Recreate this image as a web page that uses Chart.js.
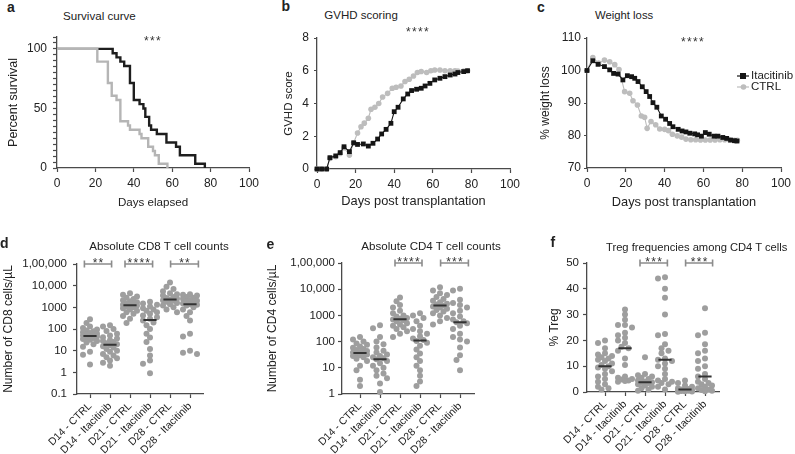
<!DOCTYPE html>
<html><head><meta charset="utf-8">
<script src="https://cdn.jsdelivr.net/npm/chart.js@4.4.1/dist/chart.umd.min.js"></script>
<style>
html,body{margin:0;padding:0;background:#fff;}
#wrap{position:relative;width:795px;height:454px;overflow:hidden;font-family:"Liberation Sans",Arial,sans-serif;color:#222;}
canvas{position:absolute;}
.t{position:absolute;white-space:nowrap;line-height:1;}
</style></head>
<body><div id="wrap"></div>
<script>
// ================= DATA =================
const dayTicks = [0, 20, 40, 60, 80, 100];

// (a) survival
const survivalDaysItacitinib = [0,29,31,33,35,38,40,43,45,46,48,49,52,57,62,64,72,77];
const survivalItacitinib     = [100,96.4,92.9,89.3,85.7,71.4,57.1,53.6,50,42.9,35.7,32.1,28.6,21.4,17.9,10.7,3.6,0];
const survivalDaysCtrl = [0,21,26.5,28.5,31,33,37,38,43,44,47.5,50,51,53,57.5];
const survivalCtrl     = [100,89.3,71.4,60.7,57.1,39.3,35.7,32.1,28.6,25,17.9,14.3,10.7,3.6,0];
const survivalYLabels  = [0, 50, 100];

// (b) GVHD score
const gvhdDaysItacitinib = [0,2.4,5,6.7,9.7,12,14,16.8,19,21,24,26.6,29,31.4,33.5,35.8,38.3,40,42,44.7,47,49,51.6,54,56,58.5,61,63.7,66.3,69,71.5,73,76,78];
const gvhdItacitinib     = [0,0,0,0.69,0.8,1.0,1.36,1.06,1.6,1.5,1.53,1.4,1.57,1.83,2.14,2.42,2.79,3.5,3.77,4.28,4.58,4.79,4.87,4.93,5.07,5.23,5.44,5.54,5.64,5.74,5.8,5.89,5.95,6.0];
const gvhdDaysCtrl = [0,2.4,5,6.7,9.7,12,14,16.8,19,21,22.8,24.5,26.6,28,30,32,34,36.6,39,41,43.5,45.6,47.8,50,52,54,56.8,59,61,63.7,66.3,69,71.5,73,76,78];
const gvhdCtrl     = [0,0,0,0.65,0.75,0.95,1.3,0.85,1.6,2.2,2.58,2.8,3.1,3.65,3.77,4.0,4.4,4.62,4.93,4.99,5.07,5.34,5.48,5.68,5.89,5.95,5.89,6.0,6.05,6.05,6.0,6.0,6.0,5.98,5.98,6.0];
const gvhdYTicks = [0, 2, 4, 6, 8];

// (c) weight
const weightDaysItacitinib = [0,3,5.7,9,11.7,13.7,16,18.5,20.8,23,24.6,26.3,28.5,30.5,32.3,34,36,38.3,40.5,42.6,44.3,47,49,51,53,55.5,57,59,61,63,65.5,67.5,70,72,74,76,77.3];
const weightItacitinib     = [100,103,101.9,101.2,100.2,99.1,98.9,97.1,98.4,98.1,97.6,96.6,95,93.5,92,90.1,88.7,86,85,83.7,82.7,81.9,81.4,81.1,80.7,80.5,80.2,79.8,80.9,80.4,79.8,79.8,79.4,79.1,78.6,78.4,78.3];
const weightDaysCtrl = [0,3,6,9,11.7,14.3,16.5,19.4,22,23.7,26,28,29.7,31,33,35.4,37.5,40,42,44,46.5,48.8,51,53.5,56,58.5,61,63.5,66,68.5,71,73.5,76,77.5];
const weightCtrl     = [100,104,102.3,103.2,102.7,101.8,100.3,93.5,93,90.7,89.4,86,85.6,82.2,84.3,83.3,82,81.9,81.5,80.4,79.9,79.5,78.9,78.7,78.7,78.6,78.6,78.6,78.6,78.7,78.7,78.6,78.5,78.5];
const weightYTicks = [70, 80, 90, 100, 110];
const seriesNames = ['Itacitinib', 'CTRL'];

// (d,e,f) categories
const categories = ['D14 - CTRL','D14 - Itacitinib','D21 - CTRL','D21 - Itacitinib','D28 - CTRL','D28 - Itacitinib'];

// (d) CD8 counts
const cd8Values = [
  [280,190,130,110,95,85,78,70,65,60,55,52,50,48,45,42,38,35,32,28,24,20,15,9,6.5,2.3],
  [150,130,100,80,60,50,42,36,30,28,25,22,20,18,16,14,12,10,9,7,6,5,4.5,3.5,2.8,2],
  [4500,3800,3200,2800,2400,2100,1900,1700,1500,1400,1300,1250,1200,1100,1000,900,800,700,600,500,400,300,190],
  [1800,1500,1300,1100,900,800,700,600,500,420,350,300,250,200,150,100,60,40,25,12,6,3.5,2.5,0.9],
  [14000,9000,7000,5500,4500,4000,3500,3000,2700,2500,2300,2100,2000,1800,1600,1400,1200,1000,800,600],
  [4000,3800,3500,3000,2800,2500,2200,2000,1800,1600,1500,1400,1300,1200,1000,800,600,400,250,60,45,10,8,7]
];
const cd8Medians = [48, 19, 1250, 260, 2300, 1400];
const cd8TickValues = [0.1, 1, 10, 100, 1000, 10000, 100000];
const cd8TickLabels = ['0.1','1','10','100','1000','10,000','1,00,000'];

// (e) CD4 counts
const cd4Values = [
  [150,120,100,85,75,65,58,52,48,44,40,38,36,34,32,30,28,25,22,18,12,8,3.5,2],
  [420,320,150,100,80,60,45,38,32,28,25,23,21,18,15,12,10,8,6,5,4,2.5,1.2],
  [4800,3500,2500,2000,1500,1200,1000,900,800,750,700,650,600,500,450,400,350,300,250,200,150],
  [1200,1000,800,600,400,300,250,200,160,130,115,105,90,70,50,35,25,18,12,8,5,3,2],
  [12000,9000,7000,6000,5000,4200,3600,3200,2800,2600,2400,2200,2000,1800,1600,1400,1200,1000,800,600,450],
  [10500,9000,4000,3000,2500,2000,1500,1200,900,700,600,550,500,400,300,200,150,120,100,60,30,20,8]
];
const cd4Medians = [37, 21, 720, 110, 2400, 550];
const cd4TickValues = [1, 10, 100, 1000, 10000, 100000];
const cd4TickLabels = ['1','10','100','1000','10,000','1,00,000'];

// (f) Treg %
const tregValues = [
  [20,19,17,15,14.5,14,13.5,13,12.5,12,11,10.5,10,9.5,9,8,7,6,5,4,3,2,1.5,1],
  [32,30,28,26,26,25,23,22,21,20,19,17.5,17,16,13,10.5,6,5.5,5,4.8,4.5,4.3,4],
  [13.5,7,6.5,6,5.5,5,4.5,4,3.8,3.6,3.5,3,2.5,2,1.5,1,0.5],
  [44.5,44,40,36.5,30,22.5,22,18.5,17,16,15,13,12.5,12,11,10,9,7,5,4.5,4,3.5,3,2,1],
  [4.5,3.5,2.5,2,1.5,1.2,1,0.9,0.8,0.6,0.5,0.4,0.3,0.2,0.1],
  [32.5,23,22,18.5,16,15,13,12,10,9,7,6,5,4,3.5,3,2.5,2,1.5,1,0.8,0.5,0.3]
];
const tregMedians = [10, 17, 3.8, 12.5, 1, 6];
const tregTicks = [0, 10, 20, 30, 40, 50];

// ================= RENDER =================
const FONT = '"Liberation Sans", Arial, sans-serif';
const AX = '#4a4a4a';
Chart.defaults.font.family = FONT;
Chart.defaults.color = '#222';
const wrap = document.getElementById('wrap');

function txt(s, x, baseline, size, o = {}) {
  const e = document.createElement('div');
  e.className = 't'; e.textContent = s;
  e.style.fontSize = size + 'px';
  if (o.bold) e.style.fontWeight = 'bold';
  if (o.ls) e.style.letterSpacing = o.ls + 'px';
  if (o.color) e.style.color = o.color;
  e.style.top = (baseline - 0.8465 * size) + 'px';
  e.style.left = x + 'px';
  if (o.center) e.style.transform = 'translateX(-50%)';
  wrap.appendChild(e);
}

function axis(o) {
  return {
    type: o.type || 'linear', min: o.min, max: o.max,
    border: {display: true, color: AX, width: 1.3},
    grid: {drawOnChartArea: false, drawTicks: true, tickLength: o.tl ?? 4, tickColor: AX, tickWidth: 1.2},
    ticks: {autoSkip: false, color: '#222', font: {size: o.fs || 12}, padding: o.pad ?? 4,
            minRotation: o.rot || 0, maxRotation: o.rot || 0,
            callback: o.cb || (v => String(v))},
    afterBuildTicks: s => { s.ticks = o.ticks.map(v => ({value: v})); },
    title: {display: !!o.title, text: o.title || '', color: '#222', font: {size: o.tfs || 12, weight: 'normal'}, padding: o.tpad || {top: 0, bottom: 0}}
  };
}

function makeChart(cfg) {
  const c = document.createElement('canvas');
  c.width = cfg.w; c.height = cfg.h;
  Object.assign(c.style, {left: cfg.left + 'px', top: cfg.top + 'px', width: cfg.w + 'px', height: cfg.h + 'px'});
  wrap.appendChild(c);
  const pad = {left: cfg.plot.l - cfg.left - cfg.yW, top: cfg.plot.t - cfg.top,
               right: cfg.left + cfg.w - cfg.plot.r, bottom: cfg.top + cfg.h - cfg.plot.b - cfg.xH};
  const xs = Object.assign({}, cfg.x, {afterFit(s) { s.height = cfg.xH; s.paddingLeft = 0; s.paddingRight = 0; }});
  const ys = Object.assign({}, cfg.y, {afterFit(s) { s.width = cfg.yW; s.paddingTop = 0; s.paddingBottom = 0; }});
  return new Chart(c, {
    type: 'scatter',
    data: {datasets: cfg.datasets},
    options: {
      responsive: false, animation: false, devicePixelRatio: 1,
      layout: {padding: pad, autoPadding: false},
      plugins: Object.assign({legend: {display: false}, tooltip: {enabled: false}}, cfg.plugins || {}),
      scales: {x: xs, y: ys}
    },
    plugins: cfg.extraPlugins || []
  });
}

const pts = (xs, ys) => xs.map((x, i) => ({x, y: ys[i]}));

// ---- bracket plugin (significance bars) ----
const bracketPlugin = {
  id: 'brackets',
  afterDatasetsDraw(chart, args, opts) {
    const {ctx} = chart, x = chart.scales.x, y = chart.scales.y;
    (opts.items || []).forEach(b => {
      const x1 = x.getPixelForValue(b.from), x2 = x.getPixelForValue(b.to), py = y.getPixelForValue(b.y);
      ctx.save();
      ctx.strokeStyle = '#8c8c8c'; ctx.lineWidth = 1.6;
      ctx.beginPath();
      ctx.moveTo(x1, py); ctx.lineTo(x2, py);
      ctx.moveTo(x1, py - 3.5); ctx.lineTo(x1, py + 3.5);
      ctx.moveTo(x2, py - 3.5); ctx.lineTo(x2, py + 3.5);
      ctx.stroke();
      ctx.fillStyle = '#333'; ctx.font = '12px ' + FONT;
      ctx.letterSpacing = '1.3px';
      ctx.textAlign = 'center'; ctx.textBaseline = 'alphabetic';
      ctx.fillText(b.label, (x1 + x2) / 2 + 0.6, py + 3);
      ctx.restore();
    });
  }
};

// ---- inline legend plugin (panel c) ----
const legendPlugin = {
  id: 'inlineLegend',
  afterDraw(chart, args, opts) {
    const ctx = chart.ctx;
    ctx.save();
    opts.items.forEach(it => {
      const ds = chart.data.datasets[it.ds];
      const x = it.x - opts.ox, y = it.y - opts.oy;
      ctx.strokeStyle = ds.borderColor; ctx.lineWidth = 1.2;
      ctx.beginPath(); ctx.moveTo(x, y); ctx.lineTo(x + 12, y); ctx.stroke();
      ctx.fillStyle = ds.pointBackgroundColor;
      if (ds.pointStyle === 'rect') ctx.fillRect(x + 3, y - 3, 6, 6);
      else { ctx.beginPath(); ctx.arc(x + 6.5, y, 2.8, 0, Math.PI * 2); ctx.fill(); }
      ctx.fillStyle = '#222'; ctx.font = '11.5px ' + FONT; ctx.textBaseline = 'middle'; ctx.textAlign = 'left';
      ctx.fillText(ds.label, x + 14, y);
    });
    ctx.restore();
  }
};

// ---- beeswarm placement in pixel space ----
function swarm(chart, dsIndex, cols) {
  const xs = chart.scales.x, ys = chart.scales.y;
  const pxPerCat = xs.getPixelForValue(1) - xs.getPixelForValue(0);
  const out = [];
  cols.forEach((vals, c) => {
    const placed = [];
    const order = vals.map((v, i) => i).sort((a, b) => vals[b] - vals[a]);
    order.forEach(i => {
      const py = ys.getPixelForValue(vals[i]);
      const cands = [0, -3.5, 3.5, -7, 7];
      let best = 0, bestD = -1;
      for (const dx of cands) {
        let md = Infinity;
        for (const p of placed) { const d = Math.hypot(dx - p.dx, py - p.py); if (d < md) md = d; }
        if (md >= 5) { best = dx; bestD = md; break; }
        if (md > bestD) { bestD = md; best = dx; }
      }
      placed.push({dx: best, py});
      out.push({x: c + best / pxPerCat, y: vals[i]});
    });
  });
  chart.data.datasets[dsIndex].data = out;
  chart.update('none');
}

// ===== (a) Survival =====
const survTicks = []; for (let v = 0; v <= 110; v += 5) survTicks.push(v);
makeChart({
  left: 0, top: 35, w: 262, h: 180, plot: {l: 57, t: 37, r: 249, b: 168}, yW: 57, xH: 42,
  datasets: [
    {label: 'CTRL', data: pts(survivalDaysCtrl, survivalCtrl), showLine: true, stepped: 'before',
     borderColor: '#b5b5b5', borderWidth: 2.4, pointRadius: 0, clip: false},
    {label: 'Itacitinib', data: pts(survivalDaysItacitinib, survivalItacitinib), showLine: true, stepped: 'before',
     borderColor: '#1e1e1e', borderWidth: 2.4, pointRadius: 0, clip: false}
  ],
  x: axis({min: 0, max: 100, ticks: dayTicks, pad: 4, title: 'Days elapsed', tfs: 11.6}),
  y: axis({min: 0, max: 110, ticks: survTicks, tl: 4, pad: 6, title: 'Percent survival', tfs: 12.5, tpad: {top: 6, bottom: 0},
           cb: v => survivalYLabels.includes(v) ? String(v) : ''})
});

// ===== (b) GVHD =====
makeChart({
  left: 268, top: 28, w: 262, h: 187, plot: {l: 317, t: 38, r: 510, b: 169}, yW: 49, xH: 40,
  datasets: [
    {label: seriesNames[0], data: pts(gvhdDaysItacitinib, gvhdItacitinib), showLine: true, borderColor: '#151515', borderWidth: 1.1,
     pointStyle: 'rect', pointRadius: 3.4, pointBackgroundColor: '#151515', pointBorderWidth: 0, clip: false},
    {label: seriesNames[1], data: pts(gvhdDaysCtrl, gvhdCtrl), showLine: true, borderColor: '#bdbdbd', borderWidth: 1.1,
     pointStyle: 'circle', pointRadius: 2.8, pointBackgroundColor: '#bdbdbd', pointBorderWidth: 0, clip: false}
  ],
  x: axis({min: 0, max: 100, ticks: dayTicks, title: 'Days post transplantation', tfs: 12.8}),
  y: axis({min: 0, max: 8, ticks: gvhdYTicks, tl: 3, pad: 5, title: 'GVHD score', tfs: 11.5, tpad: {top: 13.5, bottom: 0}})
});

// ===== (c) Weight =====
makeChart({
  left: 532, top: 28, w: 263, h: 187, plot: {l: 587, t: 38, r: 781, b: 168}, yW: 55, xH: 42,
  datasets: [
    {label: seriesNames[0], data: pts(weightDaysItacitinib, weightItacitinib), showLine: true, borderColor: '#151515', borderWidth: 1.1,
     pointStyle: 'rect', pointRadius: 3.4, pointBackgroundColor: '#151515', pointBorderWidth: 0, clip: false},
    {label: seriesNames[1], data: pts(weightDaysCtrl, weightCtrl), showLine: true, borderColor: '#bdbdbd', borderWidth: 1.1,
     pointStyle: 'circle', pointRadius: 2.8, pointBackgroundColor: '#bdbdbd', pointBorderWidth: 0, clip: false}
  ],
  x: axis({min: 0, max: 100, ticks: dayTicks, title: 'Days post transplantation', tfs: 12.8}),
  y: axis({min: 70, max: 110, ticks: weightYTicks, tl: 3, pad: 3, title: '% weight loss', tfs: 12, tpad: {top: 6.5, bottom: 0}}),
  plugins: {inlineLegend: {ox: 532, oy: 28, items: [{ds: 0, x: 737, y: 76}, {ds: 1, x: 737, y: 87}]}},
  extraPlugins: [legendPlugin]
});

// ===== bottom row helper =====
function dotPanel(cfg) {
  const medianData = [];
  cfg.medians.forEach((m, c) => { medianData.push({x: c - 0.33, y: m}, {x: c + 0.33, y: m}, {x: c + 0.5, y: null}); });
  const ch = makeChart({
    left: cfg.left, top: 225, w: cfg.w, h: 229, plot: cfg.plot, yW: cfg.yW, xH: cfg.xH,
    datasets: [
      {label: 'Median', data: medianData, showLine: true, spanGaps: false, borderColor: '#333', borderWidth: 2, pointRadius: 0, clip: false},
      {label: 'Values', data: cfg.values.flatMap((vals, c) => vals.map(v => ({x: c, y: v}))),
       pointRadius: 3, pointBackgroundColor: '#9e9e9e', pointBorderWidth: 0, clip: false}
    ],
    x: axis({min: cfg.xmin, max: cfg.xmax, ticks: categories.map((c, i) => i), rot: 45, fs: 10.5, pad: 2, cb: v => categories[v]}),
    y: cfg.y,
    plugins: {brackets: {items: cfg.brackets}},
    extraPlugins: [bracketPlugin]
  });
  swarm(ch, 1, cfg.values);
}

// ===== (d) CD8 =====
dotPanel({
  left: 0, w: 265, plot: {l: 77, t: 264, r: 203, b: 394}, yW: 77, xH: 60, xmin: -0.65, xmax: 5.65,
  values: cd8Values, medians: cd8Medians,
  y: axis({type: 'logarithmic', min: 0.1, max: 100000, ticks: cd8TickValues, tl: 4, pad: 6, fs: 11.5,
           cb: v => cd8TickLabels[cd8TickValues.indexOf(v)] ?? '',
           title: 'Number of CD8 cells/µL', tfs: 12, tpad: {top: 1, bottom: 0}}),
  brackets: [{from: -0.28, to: 1.08, y: 100000, label: '**'}, {from: 1.75, to: 3.13, y: 100000, label: '****'}, {from: 4.03, to: 5.42, y: 100000, label: '**'}]
});

// ===== (e) CD4 =====
dotPanel({
  left: 262, w: 268, plot: {l: 342, t: 263, r: 474, b: 394}, yW: 80, xH: 60, xmin: -0.9, xmax: 5.7,
  values: cd4Values, medians: cd4Medians,
  y: axis({type: 'logarithmic', min: 1, max: 100000, ticks: cd4TickValues, tl: 4, pad: 3, fs: 11.5,
           cb: v => cd4TickLabels[cd4TickValues.indexOf(v)] ?? '',
           title: 'Number of CD4 cells/µL', tfs: 12, tpad: {top: 3.5, bottom: 0}}),
  brackets: [{from: 1.75, to: 3.1, y: 100000, label: '****'}, {from: 4.03, to: 5.42, y: 100000, label: '***'}]
});

// ===== (f) Treg =====
dotPanel({
  left: 530, w: 265, plot: {l: 587, t: 263, r: 719, b: 392}, yW: 57, xH: 62, xmin: -0.9, xmax: 5.7,
  values: tregValues, medians: tregMedians,
  y: axis({min: 0, max: 50, ticks: tregTicks, tl: 4, pad: 4, fs: 11.5,
           title: '% Treg', tfs: 12, tpad: {top: 17.5, bottom: 0}}),
  brackets: [{from: 1.75, to: 3.12, y: 50, label: '***'}, {from: 4.03, to: 5.38, y: 50, label: '***'}]
});

// ===== text annotations =====
txt('a', 7, 11.7, 14, {bold: true});
txt('b', 281.5, 10.8, 14, {bold: true});
txt('c', 537, 11.7, 14, {bold: true});
txt('d', 0, 248.3, 14, {bold: true});
txt('e', 266.5, 249, 14, {bold: true});
txt('f', 550.5, 246.7, 14, {bold: true});

txt('Survival curve', 63, 19.5, 11.6);
txt('GVHD scoring', 324.3, 20, 11.5);
txt('Weight loss', 595, 20, 11.3);
txt('Absolute CD8 T cell counts', 159, 250, 11.6, {center: true});
txt('Absolute CD4 T cell counts', 431, 249.5, 11.6, {center: true});
txt('Treg frequencies among CD4 T cells', 606, 251, 11.2);

txt('***', 153, 45, 12, {ls: 1.3, center: true, color: '#333'});
txt('****', 418, 36.5, 12, {ls: 1.3, center: true, color: '#333'});
txt('****', 693, 46.5, 12, {ls: 1.3, center: true, color: '#333'});
</script>
</body></html>
